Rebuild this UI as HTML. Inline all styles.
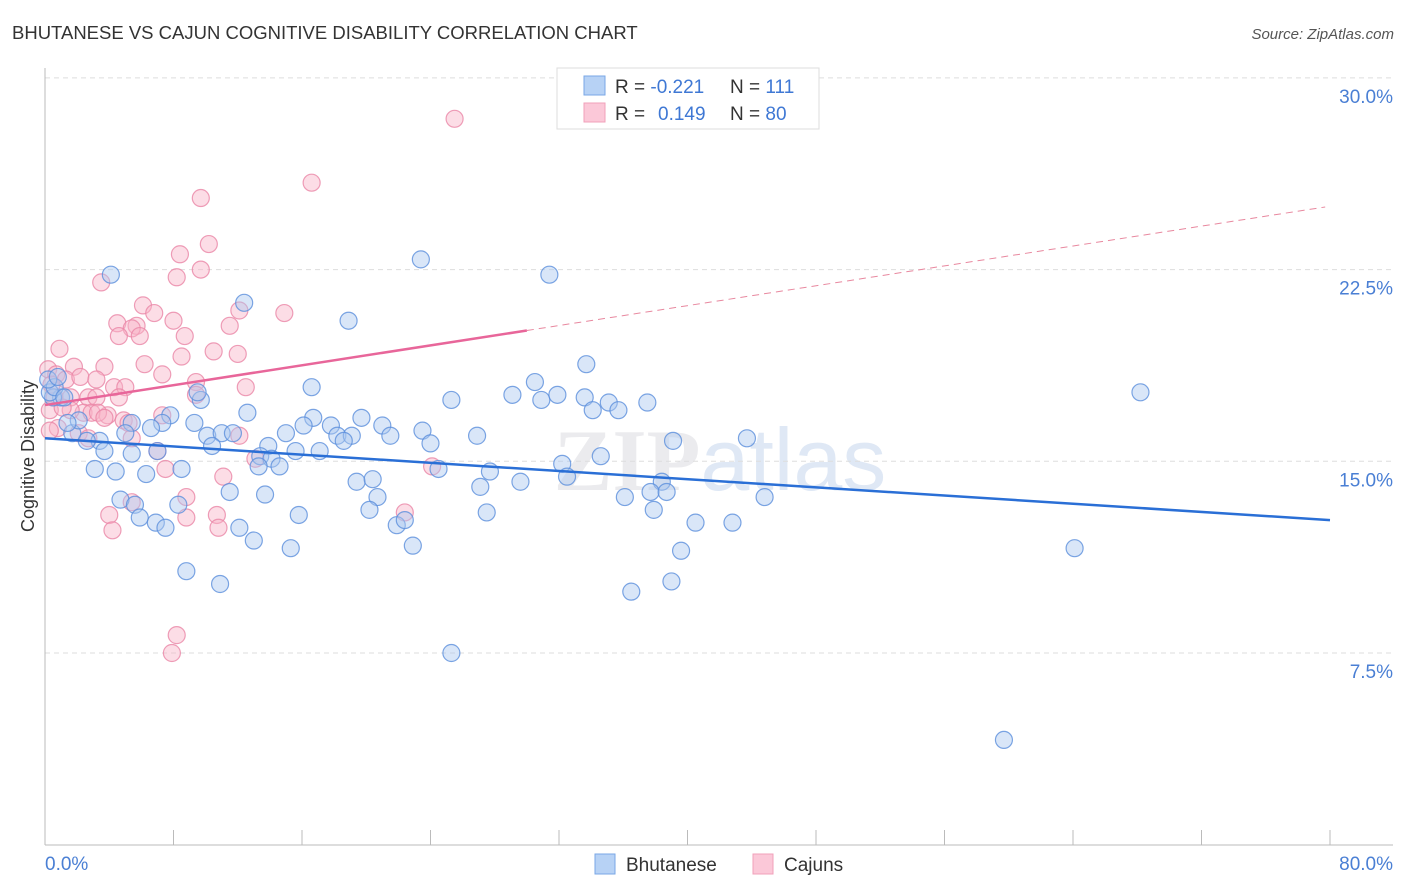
<!DOCTYPE html>
<html><head><meta charset="utf-8">
<style>
body{margin:0;background:#fff;font-family:"Liberation Sans",sans-serif;}
svg{display:block}
</style></head>
<body>
<svg id="chart" width="1406" height="892">
<text x="12" y="39" font-size="18.5" fill="#333">BHUTANESE VS CAJUN COGNITIVE DISABILITY CORRELATION CHART</text>
<text x="1394" y="39" font-size="15" fill="#555" font-style="italic" text-anchor="end">Source: ZipAtlas.com</text>
<text x="720" y="490" font-size="88" fill="#ebebee" text-anchor="middle" font-weight="bold" font-family="Liberation Serif,serif">ZIP<tspan font-family="Liberation Sans,sans-serif" font-weight="normal" fill="#dfe8f5">atlas</tspan></text>
<g id="grid"></g>
<g id="axes"></g>
<g id="pts"></g>
<g id="trend"></g>
<text transform="translate(34,456) rotate(-90)" font-size="18" fill="#333" text-anchor="middle">Cognitive Disability</text>
<text x="45" y="870" font-size="19" fill="#4a7fd4">0.0%</text>
<text x="1393" y="870" font-size="19" fill="#4a7fd4" text-anchor="end">80.0%</text>
<g>
<rect x="557" y="68" width="262" height="61" fill="#fff" stroke="#ddd"/>
<rect x="584" y="76" width="21" height="19" fill="#b7d2f5" stroke="#7aa7e6"/>
<rect x="584" y="103" width="21" height="19" fill="#fbc8d8" stroke="#f0a0ba"/>
<text x="615" y="93" font-size="19" fill="#333">R = <tspan fill="#3f78d4">-0.221</tspan><tspan x="730">N = </tspan><tspan fill="#3f78d4">111</tspan></text>
<text x="615" y="120" font-size="19" fill="#333">R = <tspan x="658" fill="#3f78d4">0.149</tspan><tspan x="730">N = </tspan><tspan fill="#3f78d4">80</tspan></text>
</g>
<g>
<rect x="595" y="854" width="20" height="20" fill="#b7d2f5" stroke="#7aa7e6"/>
<text x="626" y="871" font-size="19" fill="#333">Bhutanese</text>
<rect x="753" y="854" width="20" height="20" fill="#fbc8d8" stroke="#f0a0ba"/>
<text x="784" y="871" font-size="19" fill="#333">Cajuns</text>
</g>
</svg>
<script>
const yTicks=[7.5,15,22.5,30];
const yTickLabels=["7.5%","15.0%","22.5%","30.0%"];
const xTicks=[0,8,16,24,32,40,48,56,64,72,80];
const blueX=[4.1,23.4,31.4,12.4,18.9,33.7,16.6,30.5,29.1,30.9,31.9,33.6,25.3,37.5,35.1,35.7,34.1,9.7,12.6,9.5,7.8,9.3,7.3,6.6,5.4,16.7,17.8,19.7,16.1,23.5,21.0,18.2,19.1,18.6,21.5,15.0,10.1,11.0,11.7,10.4,5.0,3.4,2.6,1.7,2.1,1.4,1.0,0.5,0.3,0.6,1.2,0.2,0.8,13.9,15.6,17.1,13.4,14.1,14.6,13.3,3.7,5.4,7.0,8.5,6.3,4.4,3.1,24.0,26.9,43.7,39.1,34.6,32.2,24.5,27.7,32.5,27.1,29.6,38.4,19.4,20.4,11.5,13.7,20.7,4.7,5.6,8.3,36.1,37.7,38.7,44.8,37.9,27.5,20.2,15.8,5.9,6.9,7.5,12.1,21.9,22.4,40.5,42.8,13.0,15.3,22.9,39.6,8.8,10.9,36.5,39.0,68.2,64.1,25.3,59.7];
const blueY=[22.3,22.9,22.3,21.2,20.5,18.8,17.9,18.1,17.6,17.4,17.6,17.5,17.4,17.3,17.3,17.0,17.0,17.4,16.9,17.7,16.8,16.5,16.5,16.3,16.5,16.7,16.4,16.7,16.4,16.2,16.4,16.0,16.0,15.8,16.0,16.1,16.0,16.1,16.1,15.6,16.1,15.8,15.8,16.1,16.6,16.5,17.5,17.5,17.7,17.9,17.5,18.2,18.3,15.6,15.4,15.4,15.2,15.1,14.8,14.8,15.4,15.3,15.4,14.7,14.5,14.6,14.7,15.7,16.0,15.9,15.8,15.2,14.9,14.7,14.6,14.4,14.0,14.2,14.2,14.2,14.3,13.8,13.7,13.6,13.5,13.3,13.3,13.6,13.8,13.8,13.6,13.1,13.0,13.1,12.9,12.8,12.6,12.4,12.4,12.5,12.7,12.6,12.6,11.9,11.6,11.7,11.5,10.7,10.2,9.9,10.3,17.7,11.6,7.5,4.1];
const pinkX=[25.5,16.6,9.7,10.2,8.4,9.7,8.2,3.5,14.9,6.1,6.8,12.1,4.5,5.7,5.4,8.0,11.5,4.6,5.9,8.7,0.9,10.5,12.0,8.5,6.2,0.2,1.8,3.7,0.7,1.3,2.2,3.2,7.3,9.4,4.3,5.0,12.5,0.6,1.6,2.7,3.2,4.6,9.4,7.3,2.4,2.9,3.9,4.9,5.2,0.8,2.1,2.7,5.4,12.1,7.0,13.1,24.1,7.5,11.1,8.8,5.4,22.4,4.0,8.8,10.7,4.2,10.8,8.2,7.9,0.3,0.3,0.4,1.6,1.1,3.3,3.7];
const pinkY=[28.4,25.9,25.3,23.5,23.1,22.5,22.2,22.0,20.8,21.1,20.8,20.9,20.4,20.3,20.2,20.5,20.3,19.9,19.9,19.9,19.4,19.3,19.2,19.1,18.8,18.6,18.7,18.7,18.4,18.2,18.3,18.2,18.4,18.1,17.9,17.9,17.9,17.5,17.5,17.5,17.5,17.5,17.6,16.8,16.9,16.9,16.8,16.6,16.5,16.3,16.1,15.9,15.9,16.0,15.4,15.1,14.8,14.7,14.4,13.6,13.4,13.0,12.9,12.8,12.9,12.3,12.4,8.2,7.5,16.2,17.0,18.0,17.0,17.1,16.9,16.7];
const blueTrend=[15.9,12.7];
const pinkTrend=[17.2,24.95];
const pinkSolidEnd=30;

const NS="http://www.w3.org/2000/svg";
const X=v=>45+v*16.0625;
const Y=v=>653-(v-7.5)*25.56;
function mk(tag,attrs,parent){const e=document.createElementNS(NS,tag);for(const k in attrs)e.setAttribute(k,attrs[k]);document.getElementById(parent).appendChild(e);return e;}
yTicks.forEach((t,i)=>{
  const l=mk('line',{x1:45,x2:1393,y1:Y(t),y2:Y(t),stroke:'#ddd','stroke-dasharray':'5,4'},'grid');
  
  
  const tx=mk('text',{x:1393,y:Y(t)+25,'font-size':19,fill:'#4a7fd4','text-anchor':'end'},'grid');
  tx.textContent=yTickLabels[i];
  
  
});
const ax=mk('line',{x1:45,x2:45,y1:68,y2:845,stroke:'#bbb'},'axes');


const bx=mk('line',{x1:45,x2:1393,y1:845,y2:845,stroke:'#bbb'},'axes');


xTicks.forEach(t=>{
  const l=mk('line',{x1:X(t),x2:X(t),y1:830,y2:845,stroke:'#bbb'},'axes');
  
  
});
function pts(xs,ys,fill,stroke,name){
  xs.forEach((x,i)=>{
    const c=mk('circle',{cx:X(x),cy:Y(ys[i]),r:8.5,fill:fill,'fill-opacity':0.45,stroke:stroke,'stroke-width':1.2,'stroke-opacity':0.8},'pts');
    
    
  });
}
pts(pinkX,pinkY,'#f8b4c8','#ea86a6','cajun-point');
pts(blueX,blueY,'#aac8f0','#5b8fdc','bhutanese-point');
const bt=mk('line',{x1:X(0),y1:Y(blueTrend[0]),x2:X(80),y2:Y(blueTrend[1]),stroke:'#2a6fd6','stroke-width':2.5},'trend');


const pAt=x=>pinkTrend[0]+(pinkTrend[1]-pinkTrend[0])*x/79.7;
const ps=mk('line',{x1:X(0),y1:Y(pinkTrend[0]),x2:X(pinkSolidEnd),y2:Y(pAt(pinkSolidEnd)),stroke:'#e8669a','stroke-width':2.5},'trend');


const pd=mk('line',{x1:X(pinkSolidEnd),y1:Y(pAt(pinkSolidEnd)),x2:X(79.7),y2:Y(pinkTrend[1]),stroke:'#e8889f','stroke-width':1,'stroke-dasharray':'7,5'},'trend');


</script>
</body></html>
